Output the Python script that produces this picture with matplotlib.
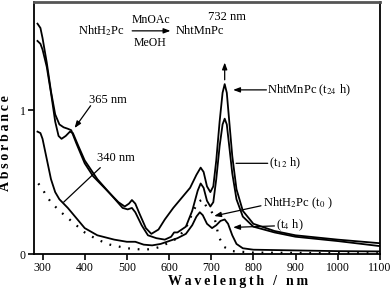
import numpy as np
import matplotlib
matplotlib.use("Agg")
import matplotlib.pyplot as plt

plt.rcParams['font.family'] = ['Liberation Serif', 'DejaVu Serif']
plt.rcParams['mathtext.fontset'] = 'stix'

# spectra (wavelength in nm, absorbance)
wl_t24 = [288, 295, 300, 310, 320, 330, 340, 350, 360, 368, 380, 400, 420, 450, 480, 495, 505, 512, 520,
          530, 545, 558, 575, 590, 610, 630, 650, 665, 675, 682, 690, 698, 705, 712, 720, 727, 732,
          737, 742, 750, 760, 775, 800, 850, 900, 1000, 1100]
ab_t24 = [1.60, 1.57, 1.50, 1.33, 1.13, 0.97, 0.90, 0.88, 0.87, 0.86, 0.77, 0.63, 0.54, 0.45, 0.36, 0.33, 0.35, 0.375, 0.35,
          0.28, 0.18, 0.14, 0.17, 0.24, 0.32, 0.39, 0.46, 0.55, 0.60, 0.57, 0.47, 0.43, 0.47, 0.65, 0.92, 1.12, 1.18,
          1.12, 0.95, 0.68, 0.45, 0.30, 0.21, 0.16, 0.13, 0.10, 0.075]

wl_t12 = [288, 295, 300, 310, 320, 330, 338, 345, 355, 365, 372, 385, 400, 430, 460, 490, 502, 512, 520,
          535, 550, 570, 590, 605, 612, 620, 640, 655, 668, 675, 682, 690, 698, 705, 712, 720, 727, 732,
          737, 742, 750, 760, 775, 800, 850, 900, 1000, 1100]
ab_t12 = [1.48, 1.46, 1.42, 1.30, 1.12, 0.92, 0.82, 0.80, 0.82, 0.85, 0.84, 0.75, 0.65, 0.52, 0.42, 0.32, 0.31, 0.32, 0.29,
          0.20, 0.13, 0.11, 0.10, 0.12, 0.15, 0.15, 0.19, 0.30, 0.44, 0.49, 0.46, 0.37, 0.33, 0.36, 0.52, 0.75, 0.90, 0.94,
          0.90, 0.77, 0.56, 0.38, 0.26, 0.19, 0.15, 0.12, 0.09, 0.055]

wl_t4 = [288, 295, 300, 310, 320, 330, 340, 350, 360, 380, 400, 430, 470, 500, 520, 540, 560, 580, 600,
         620, 640, 655, 665, 673, 680, 690, 702, 712, 722, 732, 740, 750, 760, 775, 800, 900, 1000, 1100]
ab_t4 = [0.85, 0.84, 0.80, 0.66, 0.52, 0.43, 0.38, 0.35, 0.32, 0.25, 0.18, 0.13, 0.10, 0.085, 0.085, 0.065, 0.06, 0.07, 0.09,
         0.11, 0.14, 0.20, 0.26, 0.29, 0.27, 0.21, 0.18, 0.20, 0.23, 0.24, 0.21, 0.13, 0.07, 0.04, 0.03, 0.025, 0.02, 0.018]

wl_t0 = [290, 300, 310, 320, 340, 360, 380, 400, 430, 460, 500, 540, 560, 580, 600, 620, 640, 655, 668,
         680, 690, 700, 708, 718, 730, 750, 800, 900, 1000, 1100]
ab_t0 = [0.49, 0.45, 0.40, 0.36, 0.30, 0.25, 0.20, 0.15, 0.10, 0.065, 0.04, 0.03, 0.035, 0.05, 0.08, 0.11, 0.18, 0.28, 0.36,
         0.38, 0.32, 0.30, 0.25, 0.12, 0.05, 0.02, 0.01, 0.008, 0.006, 0.005]

fig = plt.figure(figsize=(3.92, 2.94), dpi=100)
ax = fig.add_axes([0.087, 0.136, 0.882, 0.857])

lw = 1.3
ax.plot(wl_t24, ab_t24, color='black', lw=lw)
ax.plot(wl_t12, ab_t12, color='black', lw=lw)
ax.plot(wl_t4, ab_t4, color='black', lw=lw)
ax.plot(wl_t0, ab_t0, color='black', lw=1.6, linestyle=(0, (0.8, 3.5)))

ax.set_xlim(280, 1100)
ax.set_ylim(0, 1.75)
ax.set_xticks([300, 400, 500, 600, 700, 800, 900, 1000, 1100])
ax.set_yticks([0, 1])
ax.tick_params(direction='out', length=4, width=1.2, labelsize=8.5, pad=2)
for s in ax.spines.values():
    s.set_linewidth(1.3)
ax.spines['top'].set_color('#555555')
ax.spines['top'].set_linewidth(2)

ts = '\u2009'
ax.set_xlabel(ts.join('Wavelength / nm'), fontsize=10, fontweight='bold', labelpad=6)
ax.xaxis.set_label_coords(0.59, -0.085)
ax.set_ylabel(ts.join('Absorbance'), fontsize=10, fontweight='bold', labelpad=4)
ax.yaxis.set_label_coords(-0.065, 0.44)

fs = 9
ax.text(383, 1.55, r'NhtH$_2$Pc', fontsize=fs, ha='left', va='center')
ax.annotate('', xy=(610, 1.55), xytext=(506, 1.55),
            arrowprops=dict(arrowstyle='-|>,head_length=0.4,head_width=0.15', color='black', lw=0.9))
ax.text(556, 1.625, 'MnOAc', fontsize=8.5, ha='center', va='center')
ax.text(556, 1.465, 'MeOH', fontsize=8.5, ha='center', va='center')
ax.text(615, 1.55, 'NhtMnPc', fontsize=fs, ha='left', va='center')

arr = dict(arrowstyle='-|>,head_length=0.4,head_width=0.15', color='black', lw=0.9, shrinkA=0, shrinkB=0)
line = dict(arrowstyle='-', color='black', lw=0.9, shrinkA=0, shrinkB=0)

ax.text(456, 1.07, '365 nm', fontsize=fs, ha='center', va='center')
ax.annotate('', xy=(376, 0.875), xytext=(414, 1.03), arrowprops=arr)

ax.text(738, 1.646, '732 nm', fontsize=fs, ha='center', va='center')
ax.annotate('', xy=(732, 1.33), xytext=(732, 1.21), arrowprops=arr)

ax.text(833, 1.14, r'NhtMnPc (t$_{24}$ h)', fontsize=fs, ha='left', va='center')
ax.annotate('', xy=(752, 1.14), xytext=(831, 1.14), arrowprops=arr)

ax.text(836, 0.63, r'(t$_{12}$ h)', fontsize=fs, ha='left', va='center')
ax.annotate('', xy=(759, 0.63), xytext=(834, 0.63), arrowprops=line)

ax.text(823, 0.354, r'NhtH$_2$Pc (t$_0$ )', fontsize=fs, ha='left', va='center')
ax.annotate('', xy=(707, 0.264), xytext=(818, 0.335), arrowprops=arr)

ax.text(854, 0.20, r'(t$_4$ h)', fontsize=fs, ha='left', va='center')
ax.annotate('', xy=(752, 0.185), xytext=(850, 0.195), arrowprops=arr)

ax.text(473, 0.667, '340 nm', fontsize=fs, ha='center', va='center')
ax.annotate('', xy=(350, 0.36), xytext=(437, 0.60), arrowprops=line)

fig.savefig('out.png', dpi=100)
